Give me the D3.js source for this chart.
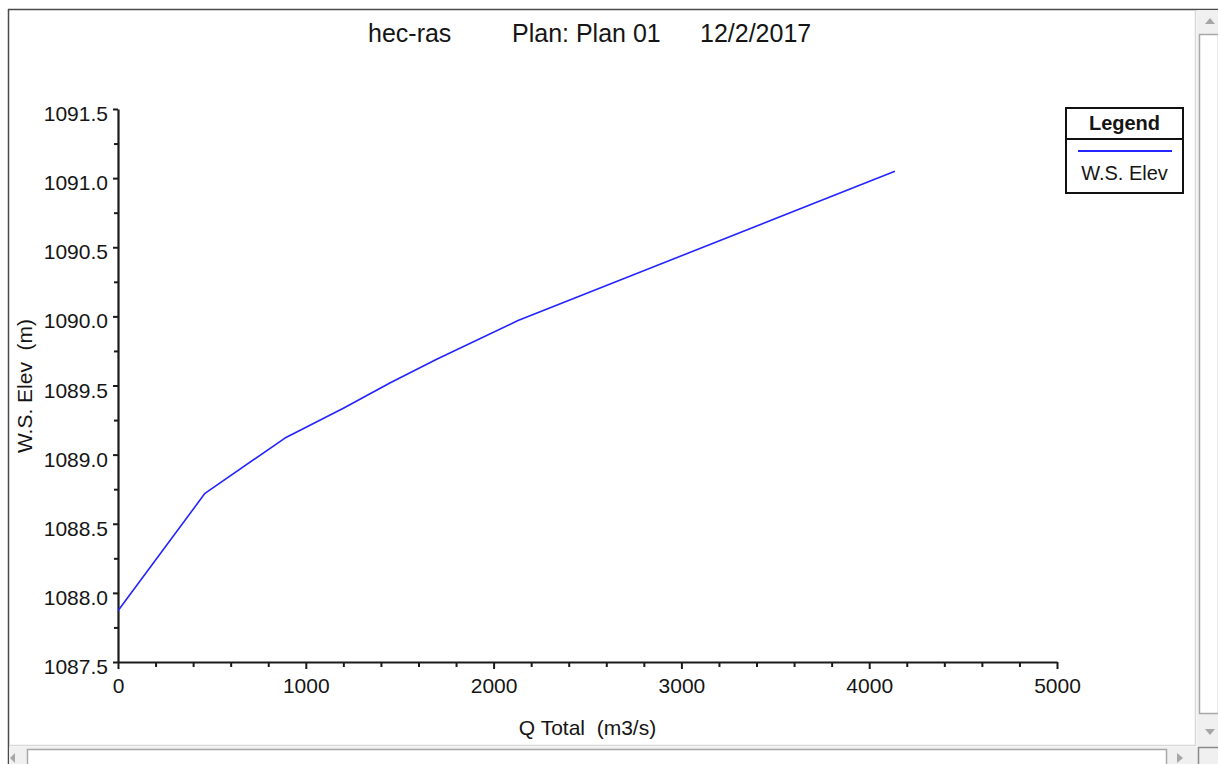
<!DOCTYPE html>
<html>
<head>
<meta charset="utf-8">
<script src="https://cdn.jsdelivr.net/npm/d3@7"></script>
<style>
  html, body { margin: 0; padding: 0; background: #fff; overflow: hidden; }
  svg { display: block; font-family: Arial, "Liberation Sans", sans-serif; }
  svg text { white-space: pre; }
</style>
</head>
<body>
<svg id="chart" width="1218" height="764"></svg>
<script>
// Rating curve: water surface elevation vs. total flow
const flowTotal = [0, 463, 889, 1200, 1450, 1697, 2130, 4137];
const wsElev = [1087.87, 1088.72, 1089.12, 1089.335, 1089.52, 1089.69, 1089.97, 1091.05];

const xTickValues = [0, 1000, 2000, 3000, 4000, 5000];
const yTickValues = [1087.5, 1088.0, 1088.5, 1089.0, 1089.5, 1090.0, 1090.5, 1091.0, 1091.5];

const titleParts = ["hec-ras", "Plan: Plan 01", "12/2/2017"];
const xLabel = "Q Total  (m3/s)";
const yLabel = "W.S. Elev  (m)";
const legendTitle = "Legend";
const seriesName = "W.S. Elev";

const W = 1218, H = 764;
const svg = d3.select("#chart");
const textColor = "#151515";
const lineColor = "#2424ff";

// ---- window frame and scroll bars ----
svg.append("rect").attr("x", 0).attr("y", 0).attr("width", W).attr("height", H).attr("fill", "#fff");
// top and left frame edges
svg.append("line").attr("x1", 8).attr("x2", W).attr("y1", 9.5).attr("y2", 9.5)
  .attr("stroke", "#4a4a4a").attr("stroke-width", 1.5);
svg.append("line").attr("x1", 8.5).attr("x2", 8.5).attr("y1", 9).attr("y2", H)
  .attr("stroke", "#4a4a4a").attr("stroke-width", 1.5);
// inner edges of client area
svg.append("line").attr("x1", 1195.5).attr("x2", 1195.5).attr("y1", 10).attr("y2", 746)
  .attr("stroke", "#d8d8d8").attr("stroke-width", 1.5);
svg.append("line").attr("x1", 9).attr("x2", 1196).attr("y1", 745.5).attr("y2", 745.5)
  .attr("stroke", "#d8d8d8").attr("stroke-width", 1.5);

// vertical scroll bar
svg.append("rect").attr("x", 1197).attr("y", 10).attr("width", 21).attr("height", 736).attr("fill", "#f0f0f0");
svg.append("rect").attr("x", 1199.5).attr("y", 34.5).attr("width", 19).attr("height", 679)
  .attr("fill", "#fff").attr("stroke", "#a8a8a8").attr("stroke-width", 1.5);
svg.append("path").attr("d", "M1205,24 L1215,24 L1210,18 Z").attr("fill", "#a6a6a6");
svg.append("path").attr("d", "M1205,729 L1215,729 L1210,735 Z").attr("fill", "#a6a6a6");

// horizontal scroll bar
svg.append("rect").attr("x", 9).attr("y", 747).attr("width", 1188).attr("height", 17).attr("fill", "#f0f0f0");
svg.append("rect").attr("x", 27.5).attr("y", 749.5).attr("width", 1139).attr("height", 16)
  .attr("fill", "#fff").attr("stroke", "#a8a8a8").attr("stroke-width", 1.5);
svg.append("path").attr("d", "M15,753 L15,763 L10,758 Z").attr("fill", "#a6a6a6");
svg.append("path").attr("d", "M1177,753 L1177,763 L1183,758 Z").attr("fill", "#a6a6a6");
// size grip corner
svg.append("rect").attr("x", 1197).attr("y", 746).attr("width", 21).attr("height", 18).attr("fill", "#f0f0f0");
svg.append("path").attr("d", "M1198.5,764 L1198.5,747.5 L1218,747.5")
  .attr("fill", "none").attr("stroke", "#8a8a8a").attr("stroke-width", 1.5);

// ---- scales ----
const x = d3.scaleLinear().domain([0, 5000]).range([118, 1057]);
const y = d3.scaleLinear().domain([1087.5, 1091.5]).range([662, 109]);

// ---- title ----
const titleX = [368, 512, 700];
svg.append("g").selectAll("text").data(titleParts).join("text")
  .attr("x", (d, i) => titleX[i]).attr("y", 42)
  .attr("font-size", 25).attr("fill", textColor)
  .text(d => d);

// ---- minor ticks ----
const xMinor = d3.range(0, 5001, 200).filter(v => !xTickValues.includes(v));
const yMinor = d3.range(1087.75, 1091.5, 0.5);

svg.append("g").attr("transform", `translate(0,${y.range()[0]})`)
  .call(d3.axisBottom(x).tickValues(xMinor).tickSize(5).tickFormat(""))
  .call(g => g.select(".domain").remove())
  .call(g => g.selectAll("line").attr("stroke", "#1a1a1a").attr("stroke-width", 2));

svg.append("g").attr("transform", `translate(${x.range()[0]},0)`)
  .call(d3.axisLeft(y).tickValues(yMinor).tickSize(4).tickFormat(""))
  .call(g => g.select(".domain").remove())
  .call(g => g.selectAll("line").attr("stroke", "#1a1a1a").attr("stroke-width", 2));

// ---- major axes ----
const xAxis = svg.append("g").attr("transform", `translate(0,${y.range()[0]})`)
  .call(d3.axisBottom(x).tickValues(xTickValues).tickSize(7).tickSizeOuter(0).tickFormat(d3.format("d")));
xAxis.select(".domain").attr("stroke", "#1a1a1a").attr("stroke-width", 2.2);
xAxis.selectAll("line").attr("stroke", "#1a1a1a").attr("stroke-width", 2);
xAxis.selectAll("text").attr("y", 16).attr("font-size", 21)
  .attr("font-family", "Arial, 'Liberation Sans', sans-serif").attr("fill", textColor);

const yAxis = svg.append("g").attr("transform", `translate(${x.range()[0]},0)`)
  .call(d3.axisLeft(y).tickValues(yTickValues).tickSize(5).tickSizeOuter(0).tickFormat(d3.format(".1f")));
yAxis.select(".domain").attr("stroke", "#1a1a1a").attr("stroke-width", 2.2);
yAxis.selectAll("line").attr("stroke", "#1a1a1a").attr("stroke-width", 2);
yAxis.selectAll("text").attr("x", -10).attr("dy", "0.55em").attr("font-size", 21)
  .attr("font-family", "Arial, 'Liberation Sans', sans-serif").attr("fill", textColor);

// ---- axis titles ----
svg.append("text").attr("x", (x.range()[0] + x.range()[1]) / 2).attr("y", 735)
  .attr("text-anchor", "middle").attr("font-size", 21).attr("fill", textColor)
  .text(xLabel);
svg.append("text").attr("transform", "translate(32,386) rotate(-90)")
  .attr("text-anchor", "middle").attr("font-size", 21).attr("fill", textColor)
  .text(yLabel);

// ---- series line ----
const pts = flowTotal.map((q, i) => [q, wsElev[i]]);
svg.append("path").datum(pts)
  .attr("fill", "none").attr("stroke", lineColor).attr("stroke-width", 1.6)
  .attr("stroke-linejoin", "round")
  .attr("d", d3.line().x(d => x(d[0])).y(d => y(d[1])));

// ---- legend ----
const lg = svg.append("g");
lg.append("rect").attr("x", 1066).attr("y", 108).attr("width", 117).attr("height", 85)
  .attr("fill", "#fff").attr("stroke", "#111").attr("stroke-width", 2);
lg.append("line").attr("x1", 1066).attr("x2", 1183).attr("y1", 139).attr("y2", 139)
  .attr("stroke", "#111").attr("stroke-width", 2);
lg.append("text").attr("x", 1124.5).attr("y", 130).attr("text-anchor", "middle")
  .attr("font-size", 20).attr("font-weight", "bold").attr("fill", textColor).text(legendTitle);
lg.append("line").attr("x1", 1078).attr("x2", 1172).attr("y1", 151).attr("y2", 151)
  .attr("stroke", lineColor).attr("stroke-width", 2);
lg.append("text").attr("x", 1124.5).attr("y", 180).attr("text-anchor", "middle")
  .attr("font-size", 20).attr("fill", textColor).text(seriesName);
</script>
</body>
</html>
